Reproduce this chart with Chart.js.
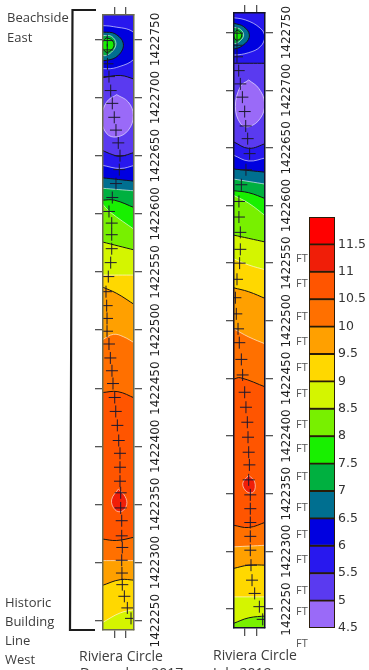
<!DOCTYPE html>
<html>
<head>
<meta charset="utf-8">
<title>Riviera Circle</title>
<script src="https://cdn.jsdelivr.net/npm/chart.js@4/dist/chart.umd.min.js"></script>
<style>
    html, body { margin: 0; padding: 0; background: #fff; width: 369px; height: 670px; overflow: hidden; }
    #page { position: relative; width: 369px; height: 670px; overflow: hidden; filter: blur(0.4px); }
    canvas { position: absolute; }
    .note { position: absolute; font-family: "Open Sans", sans-serif; font-size: 13px; color: #3c3c3c; white-space: nowrap; line-height: 16px; }
    .ft { position: absolute; font-family: "Open Sans", sans-serif; font-size: 11px; color: #555; line-height: 12px; }
    svg { position: absolute; left: 0; top: 0; }
</style>
</head>
<body>
<div id="page">
    <svg width="120" height="650"><polyline points="96,10 72.5,10 70,630 95,630" fill="none" stroke="#1c1c1c" stroke-width="2.2"/></svg>
    <canvas id="strip-left" width="100" height="650" style="left:80px;top:0"></canvas>
    <canvas id="strip-right" width="100" height="650" style="left:210px;top:0"></canvas>
    <canvas id="colorbar" width="69" height="435" style="left:300px;top:205px"></canvas>
    <div id="labels"></div>
</div>
<script>
const NORTH_BASE = 1422000;
const northTicks = [1422750, 1422700, 1422650, 1422600, 1422550, 1422500, 1422450, 1422400, 1422350, 1422300, 1422250];
const eastTicks = [10, 20];

// colour band lower edges, feet
const bandLevels = [4.5, 5, 5.5, 6, 6.5, 7, 7.5, 8, 8.5, 9, 9.5, 10, 10.5, 11, 11.5];
const bandColors = ['#9a6af8', '#5a3af0', '#2818ee', '#0000e0', '#006f90', '#00b040', '#18f000', '#78f000',
    '#d4f500', '#ffd800', '#ffa000', '#ff7000', '#ff5500', '#f01e08', '#ff0000'];
const barTop = 12;

// survey points, [east, north - NORTH_BASE]
const leftPoints = [[3.7,749],[3.7,741],[3.9,729],[5.2,718],[6.7,706],[8.1,695],[9.8,683],[11.3,672],[13.3,661],[14.8,650],
    [14.2,638],[11.3,626],[8.1,614],[5.2,602],[7.6,592],[7.6,582],[7.6,570],[6.7,558],[4.6,546],[2.6,533],[3.2,521],
    [3.5,510],[3.5,499],[5.2,488],[6.4,476],[7.8,465],[8.7,454],[10.2,442],[11.1,430],[12.5,418],[13.7,405],[14.8,394],
    [14.8,382],[14.8,370],[15.4,360],[15.4,347],[16.3,336],[16.3,323],[16.8,313],[16.3,302],[16.5,291],[16.8,281],
    [18.6,271],[21.2,261],[24.4,252]];
const rightPoints = [[3.3,749.5],[3.3,739],[3.3,729],[4.8,717],[6.2,705.5],[8,694],[10,681.5],[10.9,669],[12.6,658],[14.3,645],
    [11.1,631],[7.1,618],[5,603.5],[5,590],[6.2,576.7],[6.2,562],[5.6,550],[3.3,536],[1.9,520],[2.7,506],[4.2,493],
    [5.3,481],[7.1,466.5],[8.2,453],[10,438],[11.1,425],[12.3,412],[12.9,399],[13.5,386],[14.1,375],[13.5,362],
    [14.9,349],[14.9,337],[14.9,325],[14.9,313],[14.9,301],[15.5,288],[16.4,275],[18.7,263.5],[22.8,252],[25.7,241]];

// contour curves across the strips, top to bottom
const leftCurves = [
    [[-1,771],[28,771]],
    [[-1,717],[15,719],[28,715.6]],
    [[-1,654.7],[8,651],[15,649.5],[28,653]],
    [[-1,641.8],[15,639],[28,641.8]],
    [[-1,631],[28,628]],
    [[-1,622],[28,619.7]],
    [[-1,611.7],[10,611.7],[28,605]],
    [[-1,609],[6,601.7],[28,586]],
    [[-1,575.9],[28,568.7]],
    [[-1,547.3],[28,547.3]],
    [[-1,537.2],[12,531.5],[28,521.5]],
    [[-1,491.4],[9,496.3],[17.7,494.3],[28,488.6]],
    [[-1,446.2],[13,447],[28,441.3]],
    [[-1,320.3],[12,319],[28,322]],
    [[-1,301.7],[28,301.7]],
    [[-1,280.2],[15,285.3],[28,284.8]],
    [[-1,248.1],[15,256.7],[28,259.6]]
];
const leftCurveLevels = [null, 5.5, 5.5, 6, 6.5, 7, 7.5, 8, 8.5, 9, 9.5, 10, 10.5, 10.5, 10, 9.5, 9];
const leftBelowBands = [5.5, 5, 5.5, 6, 6.5, 7, 7.5, 8, 8.5, 9, 9.5, 10, 10.5, 10, 9.5, 9, 8.5];

const rightCurves = [
    [[0,767],[29,767]],
    [[0,723.4],[29,723.4]],
    [[0,655.4],[13.5,649.6],[29,654]],
    [[0,643.8],[13.5,638.6],[29,641.5]],
    [[0,631.7],[29,628.8]],
    [[0,623],[29,618.4]],
    [[0,612.9],[13.5,611.1],[29,605.6]],
    [[0,609],[13.5,602],[29,590.3]],
    [[0,574.4],[13.5,571.5],[29,568.1]],
    [[0,554],[13.5,548.4],[29,544]],
    [[0,528.7],[13.5,525.2],[29,518.9]],
    [[0,493.4],[13.5,486],[29,479.5]],
    [[0,449.2],[6.2,450.6],[29,442.2]],
    [[0,322.7],[13.5,320.7],[29,325.6]],
    [[0,303.9],[29,305.3]],
    [[0,285.1],[13.5,288],[29,288]],
    [[0,260.5],[29,260.5]],
    [[0,237.4],[13.5,242.3],[29,244]]
];
const rightCurveLevels = [null, 5.5, 5.5, 6, 6.5, 7, 7.5, 8, 8.5, 9, 9.5, 10, 10.5, 10.5, 10, 9.5, 9, 8.5];
const rightBelowBands = [5.5, 5, 5.5, 6, 6.5, 7, 7.5, 8, 8.5, 9, 9.5, 10, 10.5, 10, 9.5, 9, 8.5, 8];

// closed contours: bullseye, low blob, high blob
const leftBlobs = [
    [[-2.6,762],[9,761],[26.4,756.3],[33.7,743.4],[26.4,732.5],[14.8,726.8],[3.2,724.8],[-7,727.7],[-11,743]],
    [[0.3,756.3],[10.4,754.9],[17.7,746.3],[13.4,736.3],[3.2,732],[-5.5,733.4],[-9.9,744.9],[-5.5,755]],
    [[0.3,753.4],[7.5,752.6],[11.3,746.3],[7.5,739.1],[0.3,736.3],[-4,745]],
    [[2.6,751.4],[7.5,749.7],[9.6,744.8],[6.7,740.5],[2.6,739.1],[-1.2,745.4]],
    [[11.9,702.5],[22,696.2],[26.4,684.7],[22,671.8],[11.9,666.1],[3.2,669],[-1.2,681.9],[3.2,696.2]],
    [[13.4,363.2],[19.2,356.9],[20.6,349.8],[16.3,344],[10.4,345.5],[7.5,354]]
];
const rightBlobs = [
    [[-4,763.3],[10.6,761],[23.6,753.8],[27.4,746.5],[23.6,737.8],[13.5,732.6],[0.7,730.6],[-6.8,732],[-11.2,746.5]],
    [[0.7,758.1],[9.1,755.2],[14.1,748],[10.6,740.7],[0.7,735.8],[-6.8,739.3],[-8.3,749.4]],
    [[0.7,754.6],[6.2,752.9],[9.1,748],[6.2,743],[0.7,740.7],[-4,748]],
    [[3.3,752.3],[7.1,749.4],[6.5,745.1],[2.4,743.6],[0.4,748]],
    [[13.5,708.9],[22.2,701.7],[27.4,688.7],[23.6,675.6],[13.5,668.4],[6.2,671.3],[1.9,685.8],[6.2,703.1]],
    [[13.5,366],[18.7,360.3],[17.8,351.6],[12,351.6],[8.3,358.9]]
];
const blobLevels = [6, 6.5, 7, 7.5, 5, 11];
const blobBands = [6, 6.5, 7, 7.5, 4.5, 11];

// side text
const sideNotes = [['Beachside', 7, 9], ['East', 7, 29], ['Historic', 5, 594], ['Building', 5, 613], ['Line', 5, 632], ['West', 5, 651]];
const axisNotes = [['Riviera Circle', 79, 648], ['Riviera Circle', 213, 647], ['December 2017', 80, 665], ['July 2019', 213, 665]];
const ftMarks = [[258], [283], [316], [341], [367], [393], [424], [448], [476], [507], [534], [559], [590], [611], [643]];

const toXY = list => list.map(([x, n]) => ({ x, y: NORTH_BASE + n }));
const bandColor = low => bandColors[bandLevels.indexOf(low)];
const lineColor = level => {
    if (level === null) return 'transparent';
    return Number.isInteger(level) ? 'rgba(255,255,255,0.6)' : '#151515';
};

function contourDatasets(curves, levels, below, blobs, points) {
    const painted = [];
    curves.forEach((c, i) => {
        painted.push({
            data: toXY(c), showLine: true, tension: 0.4, pointRadius: 0,
            borderColor: lineColor(levels[i]), borderWidth: 1,
            backgroundColor: bandColor(below[i]), fill: 'start'
        });
    });
    blobs.forEach((b, i) => {
        painted.push({
            data: toXY([...b, b[0]]), showLine: true, tension: 0.4, pointRadius: 0,
            borderColor: lineColor(blobLevels[i]), borderWidth: 1,
            backgroundColor: bandColor(blobBands[i]), fill: 'shape'
        });
    });
    painted.push({
        data: toXY(points), showLine: false, pointStyle: 'cross', pointRadius: 6,
        pointBorderWidth: 1, pointBorderColor: '#1c1830'
    });
    // the first dataset is drawn last
    return painted.reverse();
}

function makeStrip(id, range, datasets, frame) {
    const sized = (prop, size) => scale => { scale[prop] = size; };
    const axisBase = {
        grid: { drawOnChartArea: false, tickLength: 8, color: '#555', lineWidth: 1.3 },
        border: { display: true, color: frame, width: 1.5, z: 1 }
    };
    const setEast = scale => { scale.ticks = eastTicks.map(value => ({ value })); };
    const setNorth = scale => { scale.ticks = northTicks.map(value => ({ value })); };
    const eastAxis = (position, height) => ({
        ...axisBase, type: 'linear', position, min: range.xMin, max: range.xMax,
        ticks: { display: false }, afterBuildTicks: setEast, afterFit: sized('height', height)
    });
    return new Chart(document.getElementById(id), {
        type: 'scatter',
        data: { datasets },
        options: {
            responsive: false,
            animation: false,
            events: [],
            layout: { padding: 0 },
            plugins: { legend: { display: false }, tooltip: { enabled: false } },
            scales: {
                x: eastAxis('bottom', range.bottom),
                xTop: eastAxis('top', range.top),
                y: {
                    ...axisBase, type: 'linear', position: 'left', min: range.yMin, max: range.yMax,
                    ticks: { display: false }, afterBuildTicks: setNorth, afterFit: sized('width', range.left)
                },
                yRight: {
                    ...axisBase, type: 'linear', position: 'right', min: range.yMin, max: range.yMax,
                    ticks: {
                        minRotation: 90, maxRotation: 90, crossAlign: 'center', padding: -13,
                        color: '#1e1e1e', font: { family: 'DejaVu Sans', size: 12 },
                        callback: v => String(v)
                    },
                    afterBuildTicks: setNorth, afterFit: sized('width', range.right)
                }
            }
        }
    });
}

makeStrip('strip-left',
    { xMin: 0, xMax: 27, yMin: NORTH_BASE + 242, yMax: NORTH_BASE + 771, left: 23, right: 46, top: 15, bottom: 20 },
    contourDatasets(leftCurves, leftCurveLevels, leftBelowBands, leftBlobs, leftPoints), '#6b6b50');

makeStrip('strip-right',
    { xMin: 0.7, xMax: 27.7, yMin: NORTH_BASE + 233.5, yMax: NORTH_BASE + 767, left: 24, right: 45, top: 13, bottom: 22 },
    contourDatasets(rightCurves, rightCurveLevels, rightBelowBands, rightBlobs, rightPoints), '#12122a');

new Chart(document.getElementById('colorbar'), {
    type: 'bar',
    data: {
        labels: ['ft'],
        datasets: bandLevels.map((low, i) => ({
            data: [[low, i + 1 < bandLevels.length ? bandLevels[i + 1] : barTop]],
            backgroundColor: bandColors[i],
            borderColor: '#2a1c08',
            borderWidth: 1.3,
            borderSkipped: false,
            grouped: false,
            barPercentage: 1,
            categoryPercentage: 1
        }))
    },
    options: {
        responsive: false,
        animation: false,
        events: [],
        layout: { padding: { left: 9, top: 12, bottom: 12 } },
        plugins: { legend: { display: false }, tooltip: { enabled: false } },
        scales: {
            x: { display: false },
            y: {
                position: 'right', min: 4.5, max: barTop,
                grid: { display: false, drawTicks: false },
                border: { display: false },
                ticks: {
                    padding: 3, color: '#333', font: { family: 'DejaVu Sans', size: 12.5 },
                    callback: v => String(v)
                },
                afterBuildTicks: scale => { scale.ticks = bandLevels.map(value => ({ value })); },
                afterFit: scale => { scale.width = 34; }
            }
        }
    }
});

const labels = document.getElementById('labels');
const addLabel = (cls, text, x, y, size) => {
    const el = document.createElement('div');
    el.className = cls;
    el.textContent = text;
    el.style.left = x + 'px';
    el.style.top = y + 'px';
    if (size) el.style.fontSize = size + 'px';
    labels.appendChild(el);
};
sideNotes.forEach(([text, x, y]) => addLabel('note', text, x, y));
axisNotes.forEach(([text, x, y]) => addLabel('note', text, x, y, 14));
ftMarks.forEach(([y]) => addLabel('ft', 'FT', 296, y - 6));
</script>
</body>
</html>
